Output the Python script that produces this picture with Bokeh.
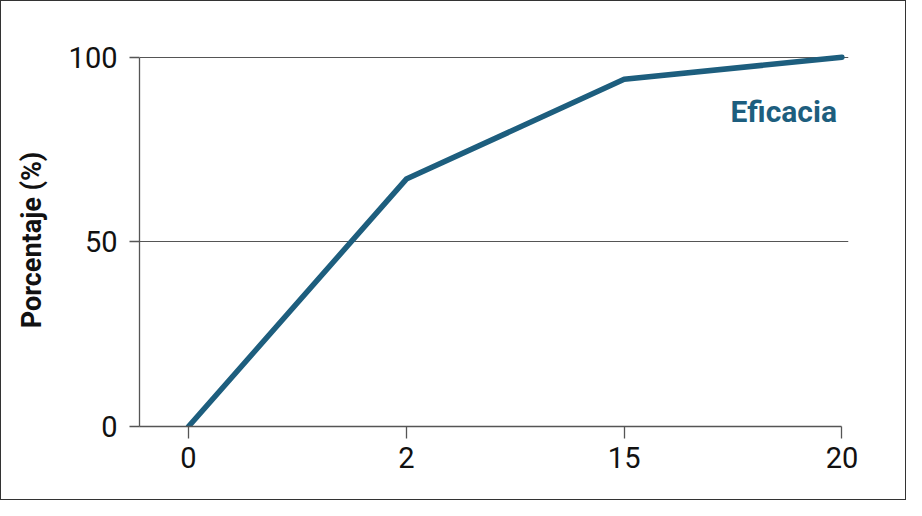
from bokeh.plotting import figure
from bokeh.models import Range1d, Label, FixedTicker
from bokeh.embed import file_html
from bokeh.resources import INLINE

doses = ["0", "2", "15", "20"]
eficacia = [0, 67, 94, 100]
y_ticks = [0, 50, 100]
series_name = "Eficacia"
y_title = "Porcentaje (%)"

FONT = "Roboto"
LINE_COLOR = "#1d5e7e"
AXIS_COLOR = "#555555"

x_idx = list(range(len(doses)))

p = figure(width=906, height=500, output_backend="svg", toolbar_location=None,
           x_range=Range1d(-0.225, 3.03), y_range=Range1d(0, 101),
           min_border_left=138, min_border_right=59, min_border_top=52, min_border_bottom=75)
p.outline_line_color = None
p.background_fill_color = "white"
p.border_fill_color = "white"
p.styles = {"border": "1px solid #333333"}

p.line(x_idx, eficacia, line_color=LINE_COLOR, line_width=5.5, line_cap="round", line_join="round")

p.add_layout(Label(x=x_idx[-1], y=eficacia[-1], text=series_name, x_offset=-5, y_offset=-54,
                   text_align="right", text_baseline="alphabetic", text_font=FONT,
                   text_font_style="bold", text_font_size="30px", text_color=LINE_COLOR))

xa = p.xaxis[0]
xa.ticker = FixedTicker(ticks=x_idx)
xa.major_label_overrides = {i: d for i, d in zip(x_idx, doses)}
xa.bounds = (-0.225, x_idx[-1])
ya = p.yaxis[0]
ya.ticker = FixedTicker(ticks=y_ticks)
ya.bounds = (0, 100)
ya.axis_label = y_title

for ax in (xa, ya):
    ax.axis_line_color = AXIS_COLOR
    ax.axis_line_width = 1.3
    ax.major_tick_line_color = AXIS_COLOR
    ax.major_tick_line_width = 1.3
    ax.minor_tick_line_color = None
    ax.major_tick_in = 0
    ax.major_label_text_font = FONT
    ax.major_label_text_font_size = "29px"
    ax.major_label_text_font_style = "normal"
    ax.major_label_text_color = "#111111"
xa.major_tick_out = 12
xa.major_label_standoff = 8
ya.major_tick_out = 10
ya.major_label_standoff = 12
ya.axis_label_text_font = FONT
ya.axis_label_text_font_style = "bold"
ya.axis_label_text_font_size = "27px"
ya.axis_label_text_color = "#111111"
ya.axis_label_standoff = 18

p.xgrid.grid_line_color = None
p.ygrid.ticker = FixedTicker(ticks=[50, 100])
p.ygrid.grid_line_color = AXIS_COLOR
p.ygrid.grid_line_width = 1.2
p.ygrid.bounds = (-0.225, x_idx[-1])

open("out.html", "w").write(file_html(p, INLINE))
